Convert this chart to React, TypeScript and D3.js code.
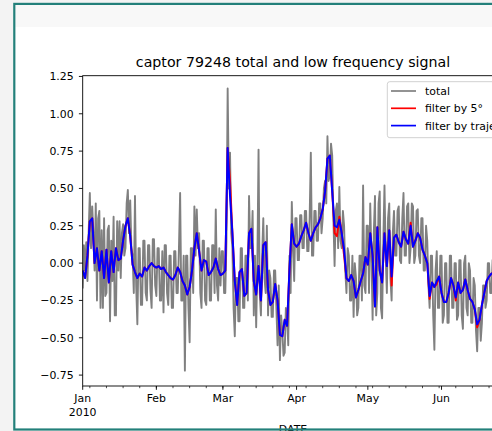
import React from "react";
import * as d3 from "d3";

const START = new Date(2010, 0, 1);
const END = new Date(2010, 5, 27);

// total signal, sampled every 12 hours from 2010-01-01
const total = [
  -0.17, 0.12, -0.05, 0.14, -0.12, 0.2, 0.47, 0.1, 0.38, 0.2,
  -0.05, 0.4, -0.25, 0.3, 0.35, -0.3, 0.22, -0.3, 0.3, -0.22,
  -0.2, 0.22, 0.25, -0.39, 0.15, -0.12, 0.31, -0.35, -0.35, 0.28,
  -0.05, 0.28, -0.1, 0.2, 0.26, 0.05, 0.1, 0.4, 0.49, 0.2,
  0.42, 0.1, 0.05, -0.2, 0.45, -0.15, -0.41, 0.1, 0.1, -0.28,
  -0.28, 0.15, 0.15, -0.2, -0.25, 0.12, 0.12, -0.18, -0.3, 0.16,
  0.16, -0.15, -0.22, 0.1, 0.1, -0.25, -0.25, 0.08, -0.33, 0.12,
  0.12, -0.2, -0.28, 0.05, 0.05, -0.3, -0.3, 0.08, 0.08, -0.2,
  -0.2, 0.1, 0.47, -0.25, -0.25, 0.05, -0.72, 0.05, 0.05, -0.3,
  -0.53, 0.1, 0.1, -0.2, 0.38, 0.05, 0.36, 0.1, 0.2, -0.2,
  -0.3, 0.15, 0.15, -0.25, -0.28, 0.1, 0.1, -0.25, -0.25, 0.12,
  0.12, -0.2, 0.36, -0.15, -0.25, 0.1, -0.15, 0.08, 0.08, -0.2,
  -0.2, 0.15, 1.17, 0.5, 0.74, 0.2, 0.1, -0.3, -0.49, -0.1,
  -0.1, -0.39, -0.39, 0.1, 0.1, -0.3, -0.3, 0.05, 0.05, -0.25,
  0.45, 0.1, 0.1, 0.35, -0.35, 0.05, -0.43, 0.0, 0.76, -0.2,
  -0.35, 0.05, 0.3, -0.1, -0.2, 0.25, -0.35, -0.05, -0.1, -0.36,
  -0.36, -0.05, -0.05, -0.3, -0.55, -0.15, -0.65, -0.35, -0.45, -0.62,
  -0.6, -0.3, -0.35, -0.55, 0.05, -0.2, 0.41, 0.1, -0.12, 0.3,
  0.3, 0.02, 0.02, 0.32, 0.32, 0.1, 0.1, 0.35, 0.35, 0.08,
  0.08, 0.3, 0.74, 0.05, 0.05, 0.35, 0.35, 0.15, 0.15, 0.4,
  0.4, 0.2, 0.3, 0.5, 0.55, 0.4, 0.85, 0.55, 0.6, 0.8,
  0.72, 0.3, -0.02, 0.35, 0.4, 0.1, 0.51, 0.15, 0.1, 0.35,
  0.25, -0.05, -0.2, 0.1, 0.05, -0.25, -0.25, 0.05, -0.36, 0.0,
  -0.1, -0.35, -0.3, 0.05, 0.05, -0.25, 0.52, -0.15, -0.2, 0.25,
  0.25, -0.2, 0.4, 0.05, -0.38, 0.2, 0.45, -0.35, -0.2, 0.4,
  0.48, -0.3, -0.37, 0.15, 0.52, 0.05, -0.2, 0.3, 0.4, -0.1,
  -0.25, 0.2, 0.35, 0.05, 0.05, 0.35, 0.38, 0.02, 0.0, 0.3,
  0.47, 0.05, 0.05, 0.38, 0.4, 0.0, 0.1, 0.4, 0.38, 0.0,
  0.05, 0.35, 0.36, 0.05, 0.0, 0.3, 0.3, -0.05, -0.05, 0.25,
  0.15, -0.15, -0.3, 0.05, 0.05, -0.35, -0.58, -0.05, 0.08, -0.3,
  -0.3, 0.05, 0.05, -0.4, -0.35, 0.0, 0.0, -0.4, -0.4, 0.05,
  0.05, -0.3, -0.3, 0.0, 0.0, -0.38, -0.35, 0.02, 0.02, -0.35,
  -0.44, 0.0, 0.05, -0.3, -0.35, 0.0, -0.05, -0.4, -0.4, -0.1,
  -0.15, -0.45, -0.59, -0.3, -0.3, -0.52, -0.4, -0.15, -0.15, -0.3,
  -0.25, 0.0, 0.0, -0.2, -0.2, 0.02, 0.02, -0.15, -0.15, 0.0,
  0.0, -0.18, -0.18, 0.02, 0.05,
];

// low-frequency signals, one value per day from 2010-01-01
const filterTraj = [
  -0.05, -0.1, 0.05, 0.28, 0.3, 0.0, 0.1, -0.05, 0.08, -0.1,
  0.09, -0.13, 0.08, -0.06, 0.1, 0.02, 0.03, 0.15, 0.25, 0.3,
  0.18, -0.01, -0.06, -0.1, -0.07, -0.09, -0.03, -0.05, -0.02, 0.0,
  -0.02, -0.03, -0.02, -0.04, -0.03, -0.06, -0.08, -0.1, -0.11, -0.08,
  -0.03, -0.06, -0.12, -0.15, -0.21, -0.16, -0.05, 0.1, 0.2, 0.08,
  -0.05, 0.02, 0.01, -0.08, -0.06, -0.03, 0.03, -0.04, -0.08, -0.07,
  -0.05, 0.77, 0.45, 0.2, -0.12, -0.28, -0.06, -0.04, -0.22, -0.2,
  0.2, 0.23, -0.12, -0.21, -0.02, -0.25, 0.12, 0.14, -0.18, -0.28,
  -0.26, -0.14, -0.25, -0.48, -0.49, -0.38, -0.42, -0.05, 0.26, 0.13,
  0.11, 0.13, 0.18, 0.22, 0.27, 0.2, 0.15, 0.2, 0.24, 0.26,
  0.3, 0.36, 0.48, 0.7, 0.72, 0.48, 0.25, 0.24, 0.29, 0.2,
  0.09, -0.1, -0.12, -0.08, -0.12, -0.23, -0.18, -0.12, -0.07, 0.04,
  -0.01, 0.2, 0.05, -0.29, 0.24, -0.05, -0.13, 0.2, -0.02, 0.22,
  -0.09, 0.17, 0.19, 0.14, 0.11, 0.21, 0.16, 0.13, 0.25, 0.11,
  0.15, 0.2, 0.17, 0.09, 0.05, 0.0, -0.22, -0.13, -0.16, -0.12,
  -0.09, -0.2, -0.26, -0.26, -0.2, -0.1, -0.15, -0.23, -0.13, -0.2,
  -0.18, -0.11, -0.18, -0.24, -0.26, -0.31, -0.41, -0.38, -0.28, -0.2,
  -0.12, -0.09, -0.07, -0.07, -0.06, -0.05, -0.06, -0.04,
];

const filter5 = [
  -0.05, -0.1, 0.05, 0.28, 0.3, 0.0, 0.1, -0.05, 0.08, -0.1,
  0.09, -0.13, 0.08, -0.06, 0.1, 0.02, 0.03, 0.15, 0.25, 0.3,
  0.18, -0.01, -0.06, -0.1, -0.07, -0.09, -0.03, -0.05, -0.02, 0.0,
  -0.02, -0.03, -0.02, -0.04, -0.03, -0.06, -0.08, -0.1, -0.11, -0.08,
  -0.03, -0.06, -0.12, -0.15, -0.21, -0.16, -0.05, 0.1, 0.2, 0.08,
  -0.05, 0.02, 0.01, -0.08, -0.06, -0.03, 0.03, -0.04, -0.08, -0.07,
  -0.05, 0.77, 0.55, 0.2, -0.12, -0.28, -0.06, -0.04, -0.22, -0.2,
  0.2, 0.23, -0.12, -0.21, -0.02, -0.25, 0.12, 0.14, -0.18, -0.28,
  -0.26, -0.14, -0.25, -0.48, -0.49, -0.38, -0.42, -0.05, 0.26, 0.13,
  0.11, 0.13, 0.18, 0.22, 0.27, 0.2, 0.15, 0.2, 0.24, 0.26,
  0.3, 0.36, 0.48, 0.7, 0.72, 0.48, 0.2, 0.18, 0.31, 0.2,
  0.05, -0.1, -0.12, -0.08, -0.12, -0.23, -0.18, -0.12, -0.07, 0.04,
  -0.01, 0.2, 0.05, -0.29, 0.24, -0.05, -0.13, 0.2, -0.02, 0.22,
  -0.15, 0.17, 0.19, 0.14, 0.11, 0.21, 0.16, 0.13, 0.27, 0.11,
  0.15, 0.2, 0.17, 0.09, 0.05, 0.0, -0.24, -0.13, -0.16, -0.14,
  -0.09, -0.2, -0.26, -0.26, -0.2, -0.1, -0.15, -0.25, -0.13, -0.2,
  -0.18, -0.11, -0.18, -0.24, -0.26, -0.31, -0.43, -0.38, -0.28, -0.2,
  -0.12, -0.09, -0.07, -0.07, -0.06, -0.05, -0.06, -0.04,
];

const yTicks = [-0.75, -0.5, -0.25, 0.0, 0.25, 0.5, 0.75, 1.0, 1.25];
const monthLabels = ["Jan", "Feb", "Mar", "Apr", "May", "Jun"];
const yearLabel = "2010";
const legendLabels = ["total", "filter by 5°", "filter by trajectory"];
const seriesColors = ["#808080", "#ff0000", "#0000ff"];

export default function App() {
  const W = 492;
  const H = 431;
  const L = 82.7, R = 503.3, T = 75.7, B = 386;
  const x = d3.scaleTime().domain([START, END]).range([L, R]);
  const y = d3.scaleLinear().domain([-0.823, 1.255]).range([B, T]);
  const totalDates = total.map((_, i) => d3.timeHour.offset(START, i * 12));
  const dayDates = filterTraj.map((_, i) => d3.timeDay.offset(START, i));
  const mk = (vals: number[], ds: Date[]) =>
    d3.line<number>().x((_, i) => x(ds[i])).y((v) => y(v))(vals) || "";
  const months = d3.timeMonth.range(START, d3.timeDay.offset(END, 1));
  const mondays = d3.timeMonday.range(START, d3.timeDay.offset(END, 1));
  const fs = 10.9;
  const teal = "#23807a";

  return (
    <svg width={W} height={H} style={{ position: "absolute", left: 0, top: 0 }} fontFamily="DejaVu Sans">
      <defs>
        <clipPath id="plotclip">
          <rect x={L} y={T} width={R - L} height={B - T} />
        </clipPath>
      </defs>
      <rect width={W} height={H} fill="#f3f3f3" />
      <rect x={14.3} y={3.9} width={W} height={425.6} fill="#ffffff" />
      <rect x={15.3} y={5} width={W} height={22} fill="#f8f8f8" />

      <g clipPath="url(#plotclip)">
        <path d={mk(total, totalDates)} fill="none" stroke={seriesColors[0]} strokeWidth={1.9} strokeLinejoin="round" />
        <path d={mk(filter5, dayDates)} fill="none" stroke={seriesColors[1]} strokeWidth={2} strokeLinejoin="round" />
        <path d={mk(filterTraj, dayDates)} fill="none" stroke={seriesColors[2]} strokeWidth={2} strokeLinejoin="round" />
      </g>

      <rect x={L} y={T} width={R - L} height={B - T} fill="none" stroke="#000" strokeWidth={0.9} />

      {yTicks.map((t) => (
        <g key={t}>
          <line x1={L - 3.8} x2={L} y1={y(t)} y2={y(t)} stroke="#000" strokeWidth={0.9} />
          <text x={L - 9} y={y(t)} dy="0.36em" textAnchor="end" fontSize={fs} fill="#000">
            {d3.format(".2f")(t).replace("-", "\u2212")}
          </text>
        </g>
      ))}

      {mondays.map((d) => (
        <line key={+d} x1={x(d)} x2={x(d)} y1={B} y2={B + 2.2} stroke="#000" strokeWidth={0.7} />
      ))}
      {months.map((d, i) => (
        <g key={+d}>
          <line x1={x(d)} x2={x(d)} y1={B} y2={B + 3.8} stroke="#000" strokeWidth={0.9} />
          <text x={x(d)} y={402} textAnchor="middle" fontSize={fs} fill="#000">
            {monthLabels[i]}
          </text>
          {i === 0 && (
            <text x={x(d)} y={416} textAnchor="middle" fontSize={fs} fill="#000">
              {yearLabel}
            </text>
          )}
        </g>
      ))}

      <text x={(L + R) / 2} y={67} textAnchor="middle" fontSize={14.2} fill="#000">
        captor 79248 total and low frequency signal
      </text>

      <text x={(L + R) / 2} y={433} textAnchor="middle" fontSize={fs} fill="#000">
        DATE
      </text>

      <rect x={387.3} y={81.7} width={160} height={56} rx={2.5} fill="#ffffff" fillOpacity={0.8} stroke="#cccccc" strokeWidth={0.9} />
      {legendLabels.map((lab, i) => {
        const ly = 91 + i * 17.3;
        return (
          <g key={lab}>
            <line x1={391} x2={416} y1={ly} y2={ly} stroke={seriesColors[i]} strokeWidth={1.7} />
            <text x={425} y={ly} dy="0.36em" fontSize={fs} fill="#000">
              {lab}
            </text>
          </g>
        );
      })}

      <rect x={14.3} y={3.9} width={W} height={425.6} fill="none" stroke={teal} strokeWidth={2.2} />
    </svg>
  );
}
